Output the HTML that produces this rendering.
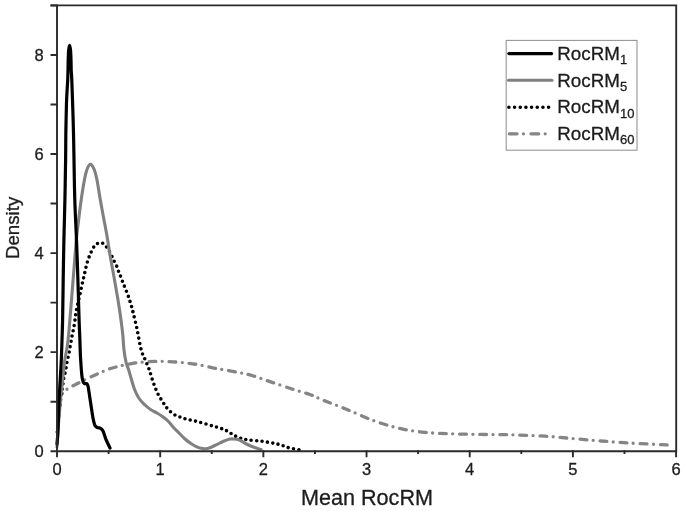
<!DOCTYPE html>
<html><head><meta charset="utf-8"><style>
html,body{margin:0;padding:0;background:#fff;width:685px;height:511px;overflow:hidden}
svg{display:block;will-change:transform}
</style></head><body>
<svg width="685" height="511" viewBox="0 0 685 511">
<style>
.t{font-family:"Liberation Sans",sans-serif;font-size:16.5px;fill:#1c1c1c;stroke:#1c1c1c;stroke-width:0.3px}
.lg{font-family:"Liberation Sans",sans-serif;font-size:18.8px;fill:#1c1c1c;stroke:#1c1c1c;stroke-width:0.3px}
.sb{font-size:13px}
</style>
<rect width="685" height="511" fill="#fff"/>
<!-- curves -->
<path d="M57.0,401.0 C57.5,400.1 59.1,397.0 60.3,395.5 C61.5,394.0 62.7,393.2 64.0,392.0 C65.3,390.8 66.3,389.6 68.1,388.4 C69.9,387.2 72.4,386.1 74.6,385.0 C76.8,383.9 78.0,383.1 81.3,381.5 C84.5,379.9 89.7,377.5 94.1,375.5 C98.5,373.5 103.2,371.1 107.5,369.5 C111.8,367.9 115.6,367.1 120.0,366.0 C124.4,364.9 129.3,363.9 133.8,363.2 C138.3,362.5 142.6,362.1 147.0,361.8 C151.4,361.5 155.8,361.3 160.1,361.3 C164.4,361.3 168.6,361.5 173.0,361.8 C177.4,362.1 182.1,362.5 186.4,363.0 C190.7,363.5 194.6,364.0 199.0,364.8 C203.4,365.6 208.3,366.9 212.6,367.8 C216.9,368.7 220.6,369.2 225.0,370.0 C229.4,370.8 234.5,371.7 239.0,372.6 C243.5,373.5 246.8,374.0 252.0,375.5 C257.2,377.0 263.2,379.3 270.0,381.6 C276.8,383.9 285.9,387.1 292.6,389.2 C299.3,391.3 304.8,392.6 310.0,394.5 C315.2,396.4 317.9,398.1 324.0,400.5 C330.1,402.9 338.2,405.9 346.3,409.2 C354.4,412.5 363.8,417.0 372.5,420.2 C381.2,423.4 390.0,426.2 398.8,428.2 C407.6,430.2 416.3,431.5 425.1,432.4 C433.9,433.3 442.6,433.5 451.4,433.8 C460.1,434.1 469.5,434.3 477.6,434.4 C485.7,434.5 493.3,434.5 500.0,434.6 C506.7,434.7 510.1,434.7 517.7,435.0 C525.3,435.3 536.2,435.6 545.5,436.2 C554.8,436.8 564.0,437.8 573.2,438.6 C582.5,439.4 591.8,440.3 601.0,441.0 C610.2,441.7 619.5,442.4 628.7,443.0 C637.9,443.6 649.2,444.0 656.4,444.4 C663.6,444.8 669.4,445.1 672.0,445.2" fill="none" stroke="#858585" stroke-width="3.3" stroke-dasharray="6.8 6.4 0 6.9" stroke-dashoffset="-2.5" stroke-linecap="round" stroke-linejoin="round"/>
<path d="M57.3,432.0 C57.5,429.7 58.0,422.5 58.5,418.0 C59.0,413.5 59.5,409.1 60.0,405.0 C60.5,400.9 61.1,396.1 61.5,393.4 C61.9,390.7 62.0,390.4 62.2,388.8 C62.5,387.1 62.7,385.1 63.0,383.3 C63.3,381.5 63.4,379.6 63.8,377.8 C64.2,376.0 64.8,374.1 65.2,372.3 C65.6,370.5 65.9,368.7 66.2,366.9 C66.5,365.1 66.8,363.1 67.1,361.4 C67.4,359.7 67.8,358.4 68.2,356.7 C68.6,355.0 69.0,353.1 69.3,351.3 C69.6,349.5 69.9,347.7 70.2,345.8 C70.5,343.9 71.0,341.9 71.3,340.0 C71.6,338.1 71.9,336.5 72.3,334.7 C72.7,332.9 73.1,331.2 73.4,329.4 C73.8,327.6 74.1,326.0 74.4,324.1 C74.7,322.2 75.0,320.1 75.2,318.2 C75.5,316.3 75.6,314.8 75.9,313.0 C76.2,311.2 76.5,309.5 76.9,307.7 C77.3,305.9 77.7,304.2 78.1,302.4 C78.5,300.6 78.9,298.8 79.3,297.0 C79.7,295.2 80.1,293.6 80.5,291.8 C80.9,290.1 81.2,288.3 81.6,286.5 C82.0,284.7 82.4,282.9 82.8,281.2 C83.2,279.5 83.5,278.2 83.9,276.5 C84.3,274.8 84.7,273.1 85.1,271.2 C85.5,269.3 86.0,267.0 86.5,265.0 C87.0,263.0 87.6,261.1 88.2,259.3 C88.8,257.5 89.5,256.0 90.2,254.3 C90.9,252.6 91.6,250.9 92.5,249.3 C93.4,247.7 94.3,245.7 95.6,244.6 C96.9,243.5 98.9,242.7 100.4,242.7 C101.9,242.7 103.2,243.4 104.5,244.6 C105.8,245.8 107.2,247.9 108.3,249.6 C109.4,251.3 110.4,253.2 111.3,255.0 C112.2,256.8 112.8,258.4 113.6,260.1 C114.4,261.9 115.6,263.7 116.4,265.5 C117.2,267.3 117.7,269.0 118.3,270.7 C118.9,272.4 119.4,273.4 120.3,275.6 C121.2,277.8 122.3,281.0 123.5,284.0 C124.7,287.0 126.2,290.5 127.4,293.7 C128.6,296.9 129.5,299.7 130.5,303.0 C131.5,306.3 132.2,308.8 133.3,313.3 C134.4,317.8 135.9,323.9 137.2,330.0 C138.5,336.1 139.8,344.7 141.1,349.6 C142.4,354.5 143.7,356.2 145.0,359.4 C146.3,362.6 147.7,365.4 149.0,369.0 C150.3,372.6 151.4,377.0 152.8,381.0 C154.2,385.0 155.7,389.3 157.5,393.0 C159.3,396.7 161.8,400.3 163.5,403.0 C165.2,405.7 166.3,407.4 168.0,409.3 C169.7,411.2 171.8,413.0 173.8,414.3 C175.8,415.6 178.1,416.2 180.0,417.0 C181.9,417.8 182.5,418.1 185.0,418.8 C187.5,419.5 191.2,420.1 195.0,421.0 C198.8,421.9 203.8,423.4 207.6,424.5 C211.4,425.6 215.0,426.6 218.0,427.5 C221.0,428.4 223.3,429.1 225.6,430.2 C227.9,431.3 229.8,432.8 232.0,434.0 C234.2,435.2 236.2,436.7 238.8,437.7 C241.4,438.7 243.7,439.2 247.5,439.8 C251.3,440.4 257.1,440.6 261.5,441.2 C265.9,441.8 270.6,442.7 273.8,443.3 C277.1,443.9 278.7,444.3 281.0,445.0 C283.3,445.7 284.6,446.7 287.8,447.5 C291.0,448.3 298.0,449.6 300.0,450.0" fill="none" stroke="#000" stroke-width="3.6" stroke-dasharray="0 5.4" stroke-linecap="round" stroke-linejoin="round"/>
<path d="M57.0,447.0 C57.1,445.8 57.2,444.5 57.5,440.0 C57.8,435.5 58.3,426.7 58.8,420.0 C59.3,413.3 59.9,406.7 60.5,400.0 C61.1,393.3 61.9,386.7 62.6,380.0 C63.3,373.3 64.0,365.8 64.8,360.0 C65.6,354.2 66.8,350.5 67.5,345.0 C68.2,339.5 68.7,333.7 69.3,327.0 C69.9,320.3 70.5,312.8 71.1,305.0 C71.7,297.2 72.5,287.5 73.1,280.0 C73.7,272.5 74.2,266.7 74.7,260.0 C75.2,253.3 75.8,245.8 76.3,240.0 C76.8,234.2 77.3,230.8 78.0,225.0 C78.7,219.2 79.6,211.7 80.5,205.0 C81.4,198.3 82.5,190.7 83.5,185.0 C84.5,179.3 85.4,174.4 86.5,171.0 C87.6,167.6 89.0,164.6 90.3,164.3 C91.5,164.0 92.9,166.4 94.0,169.0 C95.1,171.6 96.0,175.2 97.0,180.0 C98.0,184.8 98.8,191.3 100.0,198.0 C101.2,204.7 102.8,213.7 104.0,220.0 C105.2,226.3 106.0,230.2 107.0,236.0 C108.0,241.8 108.8,248.2 110.0,255.0 C111.2,261.8 112.7,269.5 114.0,277.0 C115.3,284.5 116.8,292.8 118.0,300.0 C119.2,307.2 120.2,314.2 121.0,320.0 C121.8,325.8 122.3,330.0 122.8,335.0 C123.3,340.0 123.5,345.5 124.0,350.0 C124.5,354.5 125.3,358.8 126.0,362.0 C126.7,365.2 127.5,366.2 128.4,369.0 C129.3,371.8 130.3,375.7 131.3,379.0 C132.3,382.3 133.0,385.4 134.3,388.7 C135.6,391.9 137.3,395.8 139.1,398.5 C140.9,401.2 143.0,403.1 145.0,405.0 C147.0,406.9 149.3,408.7 151.3,410.0 C153.3,411.3 155.1,411.9 157.0,413.0 C158.9,414.1 160.7,415.3 162.5,416.6 C164.3,417.9 166.1,419.1 168.0,421.0 C169.9,422.9 172.0,425.8 173.8,427.8 C175.6,429.8 177.1,431.1 179.0,433.0 C180.9,434.9 183.0,437.2 185.0,439.0 C187.0,440.8 189.1,442.2 191.0,443.5 C192.9,444.8 194.6,445.8 196.3,446.6 C198.0,447.4 199.5,447.9 201.0,448.3 C202.5,448.7 203.8,448.9 205.3,448.8 C206.8,448.7 208.1,448.4 210.0,447.7 C211.9,447.0 214.4,445.7 216.6,444.7 C218.8,443.7 220.8,442.4 223.0,441.5 C225.2,440.6 228.2,439.5 230.0,439.1 C231.8,438.7 232.5,438.9 234.0,439.0 C235.5,439.1 237.3,439.3 238.8,439.8 C240.3,440.3 241.6,441.2 243.0,442.0 C244.4,442.8 245.7,443.6 247.5,444.5 C249.3,445.4 251.8,446.5 254.0,447.3 C256.2,448.1 259.8,449.1 261.0,449.5" fill="none" stroke="#808080" stroke-width="3.1" stroke-linecap="round" stroke-linejoin="round"/>
<path d="M57.0,444.0 C57.2,441.7 57.6,437.3 58.0,430.0 C58.4,422.7 58.7,408.3 59.1,400.0 C59.5,391.7 59.8,386.7 60.2,380.0 C60.6,373.3 61.0,366.7 61.3,360.0 C61.6,353.3 61.8,346.7 62.0,340.0 C62.2,333.3 62.4,330.0 62.6,320.0 C62.8,310.0 63.0,293.3 63.2,280.0 C63.4,266.7 63.6,253.3 63.9,240.0 C64.2,226.7 64.6,213.3 64.9,200.0 C65.2,186.7 65.4,171.7 65.6,160.0 C65.8,148.3 65.7,140.0 65.9,130.0 C66.1,120.0 66.3,108.3 66.6,100.0 C66.9,91.7 67.5,85.0 67.7,80.0 C67.9,75.0 67.9,73.3 68.0,70.0 C68.1,66.7 68.1,63.2 68.2,60.0 C68.3,56.8 68.4,53.5 68.6,51.0 C68.8,48.5 69.3,45.3 69.6,45.3 C69.9,45.3 70.4,48.5 70.6,51.0 C70.8,53.5 70.9,56.8 71.0,60.0 C71.1,63.2 71.1,66.7 71.2,70.0 C71.3,73.3 71.6,75.0 71.8,80.0 C72.0,85.0 72.2,91.7 72.5,100.0 C72.8,108.3 73.2,120.0 73.4,130.0 C73.7,140.0 73.8,148.3 74.0,160.0 C74.2,171.7 74.4,186.7 74.8,200.0 C75.2,213.3 76.0,226.7 76.5,240.0 C77.0,253.3 77.5,266.7 77.9,280.0 C78.3,293.3 78.8,310.0 79.1,320.0 C79.4,330.0 79.7,334.2 79.9,340.0 C80.1,345.8 80.2,350.8 80.4,355.0 C80.6,359.2 80.8,361.7 81.0,365.0 C81.2,368.3 81.5,372.2 81.8,375.0 C82.1,377.8 82.5,380.1 83.0,381.5 C83.5,382.9 83.9,383.2 84.5,383.6 C85.1,384.0 86.2,383.2 86.8,383.6 C87.4,384.0 87.6,384.6 88.0,386.0 C88.4,387.4 88.6,389.7 89.0,392.0 C89.4,394.3 89.5,395.7 90.2,400.0 C90.9,404.3 92.2,413.8 93.0,418.0 C93.8,422.2 94.2,423.9 95.0,425.5 C95.8,427.1 96.6,427.1 97.5,427.6 C98.4,428.1 99.6,427.7 100.5,428.3 C101.4,428.9 102.1,429.1 103.0,431.0 C103.9,432.9 104.8,436.7 106.0,439.5 C107.2,442.3 109.3,446.6 110.0,448.0" fill="none" stroke="#000" stroke-width="3.2" stroke-linecap="round" stroke-linejoin="round"/>
<!-- axes -->
<path d="M50.5,5.4H676.2V451.2H57.0V5.4" fill="none" stroke="#2b2b2b" stroke-width="1.9"/>
<path d="M50.5,451.20H57.9 M50.5,401.68H57.9 M50.5,352.15H57.9 M50.5,302.62H57.9 M50.5,253.10H57.9 M50.5,203.57H57.9 M50.5,154.05H57.9 M50.5,104.52H57.9 M50.5,55.00H57.9 M50.5,5.48H57.9 M57.00,450.3V457.3 M160.18,450.3V457.3 M263.36,450.3V457.3 M366.54,450.3V457.3 M469.72,450.3V457.3 M572.90,450.3V457.3 M676.08,450.3V457.3 M108.59,450.3V454 M211.77,450.3V454 M314.95,450.3V454 M418.13,450.3V454 M521.31,450.3V454 M624.49,450.3V454" fill="none" stroke="#2b2b2b" stroke-width="1.9"/>
<text x="43.7" y="456.8" text-anchor="end" class="t">0</text><text x="43.7" y="357.8" text-anchor="end" class="t">2</text><text x="43.7" y="258.7" text-anchor="end" class="t">4</text><text x="43.7" y="159.7" text-anchor="end" class="t">6</text><text x="43.7" y="60.6" text-anchor="end" class="t">8</text>
<text x="57.0" y="474.5" text-anchor="middle" class="t">0</text><text x="160.2" y="474.5" text-anchor="middle" class="t">1</text><text x="263.4" y="474.5" text-anchor="middle" class="t">2</text><text x="366.5" y="474.5" text-anchor="middle" class="t">3</text><text x="469.7" y="474.5" text-anchor="middle" class="t">4</text><text x="572.9" y="474.5" text-anchor="middle" class="t">5</text><text x="676.1" y="474.5" text-anchor="middle" class="t">6</text>
<text x="367" y="505.4" text-anchor="middle" class="t" style="font-size:21.6px">Mean RocRM</text>
<text transform="translate(18.8,227.9) rotate(-90)" text-anchor="middle" class="t" style="font-size:18.7px">Density</text>
<!-- legend -->
<rect x="506.2" y="40.4" width="130.8" height="109.8" fill="#fff" stroke="#969696" stroke-width="1.1"/>
<path d="M508.9,53.6H551.6" stroke="#000" stroke-width="3.2" stroke-linecap="round"/>
<path d="M508.5,80.3H552" stroke="#808080" stroke-width="3" stroke-linecap="round"/>
<path d="M508.9,107.3H549" stroke="#000" stroke-width="3.6" stroke-dasharray="0 5.67" stroke-linecap="round"/>
<path d="M509.3,133.8H547" stroke="#858585" stroke-width="3.3" stroke-dasharray="7.7 6.5 0 7.5" stroke-linecap="round"/>
<text x="557.3" y="59.7" class="lg">RocRM<tspan class="sb" dy="4.6">1</tspan></text>
<text x="557.3" y="86.6" class="lg">RocRM<tspan class="sb" dy="4.6">5</tspan></text>
<text x="557.3" y="113.2" class="lg">RocRM<tspan class="sb" dy="4.6">10</tspan></text>
<text x="557.3" y="139.8" class="lg">RocRM<tspan class="sb" dy="4.6">60</tspan></text>
</svg>
</body></html>
